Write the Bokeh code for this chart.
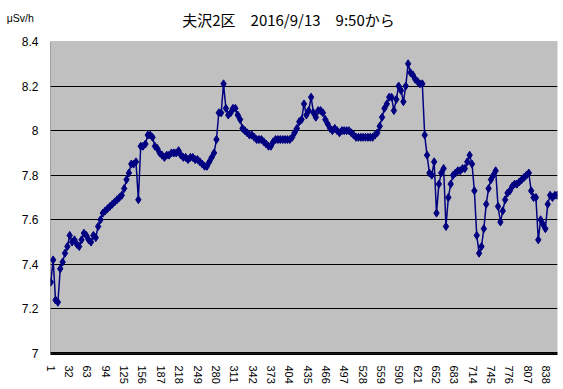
from bokeh.plotting import figure
from bokeh.models import Range1d, FixedTicker, Label, BoxAnnotation
from bokeh.embed import file_html
from bokeh.resources import INLINE

title_text = "夫沢2区　2016/9/13　9:50から"
unit_text = "μSv/h"

# readings (every 4th sample)
values = [
    7.32, 7.42, 7.24, 7.23, 7.38, 7.41, 7.45, 7.48, 7.53, 7.50, 7.51, 7.49, 7.48, 7.51, 7.54, 7.53, 7.51, 7.50, 7.53, 7.52, 7.57, 7.60,
    7.63, 7.64, 7.65, 7.66, 7.67, 7.68, 7.69, 7.70, 7.71, 7.74, 7.78, 7.81, 7.85, 7.85, 7.86, 7.69,
    7.93, 7.93, 7.94, 7.98, 7.98, 7.97, 7.93, 7.92, 7.90, 7.89, 7.88, 7.89, 7.89, 7.90,
    7.90, 7.90, 7.91, 7.89, 7.88, 7.88, 7.87, 7.88, 7.88, 7.87, 7.87, 7.86, 7.85, 7.84, 7.84, 7.86, 7.88, 7.90,
    7.96, 8.08, 8.08, 8.21, 8.10, 8.07, 8.08, 8.10, 8.10, 8.07, 8.05, 8.01, 8.00, 7.99, 7.98, 7.98, 7.97, 7.96, 7.96, 7.96, 7.95, 7.94, 7.93, 7.93,
    7.95, 7.96, 7.96, 7.96, 7.96, 7.96, 7.96, 7.96, 7.97, 7.99, 8.01, 8.04,
    8.05, 8.12, 8.07, 8.09, 8.15, 8.08, 8.06, 8.09, 8.09, 8.08, 8.05, 8.03, 8.01, 8.00, 8.01, 8.00, 7.99, 8.00, 8.00, 8.00, 8.00, 7.99, 7.98, 7.97, 7.97, 7.97, 7.97, 7.97, 7.97, 7.97, 7.97, 7.98, 7.99, 8.02,
    8.06, 8.10, 8.12, 8.15, 8.15, 8.09, 8.14, 8.20, 8.18, 8.13, 8.20, 8.30, 8.26, 8.25, 8.23, 8.22, 8.21, 8.21,
    7.98, 7.89, 7.81, 7.80, 7.86, 7.63, 7.76, 7.81, 7.83, 7.57, 7.70, 7.76, 7.80, 7.81, 7.82, 7.82, 7.83, 7.83, 7.86, 7.89, 7.85, 7.73,
    7.53, 7.45, 7.48, 7.56, 7.67, 7.74, 7.78, 7.80, 7.82, 7.66, 7.59, 7.64, 7.69, 7.72, 7.73, 7.75, 7.76, 7.76, 7.77, 7.78, 7.79, 7.80, 7.81, 7.73, 7.70, 7.70, 7.51, 7.60, 7.58, 7.56, 7.67, 7.71, 7.70, 7.71, 7.71,
]
sample_step = 4
samples = [1 + sample_step * k for k in range(len(values))]
n_samples = 857

x_ticks = list(range(1, 839, 31))
y_ticks = [7.0, 7.2, 7.4, 7.6, 7.8, 8.0, 8.2, 8.4]
y_tick_labels = ["7", "7.2", "7.4", "7.6", "7.8", "8", "8.2", "8.4"]
y_min, y_max = 7.0, 8.4
y_view_top = 8.548   # frame reaches above the plot area to hold the title

navy = "#000080"
x_start, x_end = 0.5, n_samples + 0.5

p = figure(width=563, height=389, output_backend="svg", toolbar_location=None,
           x_range=Range1d(x_start, x_end), y_range=Range1d(y_min, y_view_top),
           min_border_left=50, min_border_right=6, min_border_top=8, min_border_bottom=36)

p.background_fill_color = "white"
p.border_fill_color = "white"
p.outline_line_color = None

# gray plot area (drawn beneath the grid), gray border and black left edge
p.add_layout(BoxAnnotation(bottom=y_min, top=y_max, fill_color="#C0C0C0", fill_alpha=1.0,
                           line_color=None, level="image"))
p.add_layout(BoxAnnotation(bottom=y_min, top=y_max, fill_color=None, fill_alpha=0,
                           line_color="#808080", line_width=1))
p.add_layout(BoxAnnotation(bottom=y_min, top=y_max, right=x_start, fill_color=None, fill_alpha=0,
                           line_color="black", line_width=1))

p.line(samples, values, line_color=navy, line_width=1.5)
p.scatter(samples, values, marker="diamond", size=8, fill_color=navy, line_color=navy)

p.add_layout(Label(x=238, y=334, x_units="screen", y_units="screen", text=title_text,
                   text_align="center", text_baseline="middle",
                   text_font="Noto Sans CJK JP", text_font_size="15px", text_color="black"))

p.xgrid.grid_line_color = None
p.ygrid.grid_line_color = "black"
p.ygrid.grid_line_width = 1
p.ygrid.ticker = FixedTicker(ticks=y_ticks[1:-1])

p.xaxis.ticker = FixedTicker(ticks=x_ticks)
p.xaxis.major_label_orientation = "vertical"
p.xaxis.major_tick_line_color = None
p.xaxis.minor_tick_line_color = None
p.xaxis.axis_line_color = "black"
p.xaxis.axis_line_width = 3
p.xaxis.major_label_standoff = 6
p.xaxis.major_label_text_font = "Liberation Sans"
p.xaxis.major_label_text_font_size = "11px"
p.xaxis.major_label_text_color = "black"

p.yaxis.ticker = FixedTicker(ticks=y_ticks)
p.yaxis.major_label_overrides = {t: l for t, l in zip(y_ticks, y_tick_labels)}
p.yaxis.major_tick_line_color = None
p.yaxis.minor_tick_line_color = None
p.yaxis.axis_line_color = None
p.yaxis.major_label_standoff = 6
p.yaxis.major_label_text_font = "Liberation Sans"
p.yaxis.major_label_text_font_size = "12px"
p.yaxis.major_label_text_color = "black"
p.yaxis.axis_label = "\n" + unit_text
p.yaxis.axis_label_orientation = "horizontal"
p.yaxis.axis_label_align = "end"
p.yaxis.axis_label_standoff = -15
p.yaxis.axis_label_text_font = "Liberation Sans"
p.yaxis.axis_label_text_font_size = "10.5px"
p.yaxis.axis_label_text_line_height = 1.5
p.yaxis.axis_label_text_font_style = "normal"
p.yaxis.axis_label_text_color = "black"

open("out.html", "w").write(file_html(p, INLINE))
